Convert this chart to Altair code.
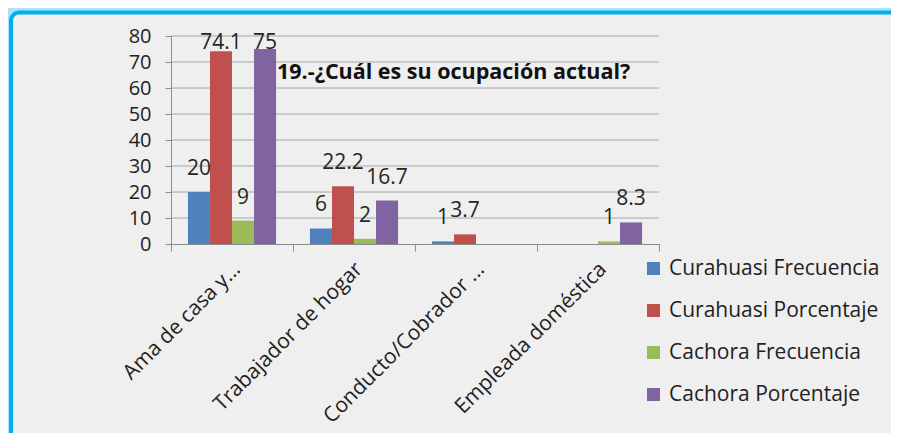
import altair as alt
import pandas as pd

categories = ["Ama de casa y...", "Trabajador de hogar", "Conducto/Cobrador ...", "Empleada doméstica"]
series = ["Curahuasi Frecuencia", "Curahuasi Porcentaje", "Cachora Frecuencia", "Cachora Porcentaje"]
colors = ["#4f81bd", "#c0504d", "#9bbb59", "#8064a2"]

curahuasi_frecuencia = [20, 6, 1, None]
curahuasi_porcentaje = [74.1, 22.2, 3.7, None]
cachora_frecuencia = [9, 2, None, 1]
cachora_porcentaje = [75, 16.7, None, 8.3]

title_text = "19.-¿Cuál es su ocupación actual?"
y_ticks = [0, 10, 20, 30, 40, 50, 60, 70, 80]

rows = []
for s, vals in zip(series, [curahuasi_frecuencia, curahuasi_porcentaje, cachora_frecuencia, cachora_porcentaje]):
    for c, v in zip(categories, vals):
        if v is not None:
            rows.append({"cat": c, "serie": s, "value": v, "label": f"{v:g}"})
df = pd.DataFrame(rows)
grid_df = pd.DataFrame({"value": y_ticks[1:]})

FONT = "Open Sans"
AXIS_COLOR = "#8c8c8c"

x_axis = alt.Axis(labelAngle=-45, labelAlign="right", labelBaseline="top",
                  labelFontSize=21, labelColor="#222222", labelFont=FONT,
                  labelLimit=400, labelOverlap=False,
                  tickBand="extent", tickSize=7, labelPadding=7, labelOffset=-3,
                  domainColor=AXIS_COLOR, tickColor=AXIS_COLOR, grid=False, zindex=1)
y_axis = alt.Axis(values=y_ticks, labelFontSize=20, labelColor="#222222", labelFont=FONT,
                  labelOverlap=False, labelBaseline="middle", labelFlush=False,
                  tickSize=6, labelPadding=14, domainColor=AXIS_COLOR, tickColor=AXIS_COLOR,
                  grid=False, zindex=1)
x_scale = alt.Scale(paddingInner=0, paddingOuter=0)
y_scale = alt.Scale(domain=[0, 80], nice=False)
xoff = alt.XOffset("serie:N", sort=series, scale=alt.Scale(domain=series, paddingInner=0, paddingOuter=0.77))

frame = alt.Chart(alt.Data(values=[{"a": 1}])).mark_rect(
    fill="#efefef", stroke="#00b0f0", strokeWidth=4, cornerRadius=8
).encode(x=alt.value(-160), x2=alt.value(900), y=alt.value(-23.5), y2=alt.value(500))

grid = alt.Chart(grid_df).mark_rule(color="#a6a6a6", strokeWidth=1).encode(
    y=alt.Y("value:Q", title=None, scale=y_scale, axis=y_axis), x=alt.value(0), x2=alt.value(488)
)

bars = alt.Chart(df).mark_bar().encode(
    x=alt.X("cat:N", sort=categories, title=None, scale=x_scale, axis=x_axis),
    y=alt.Y("value:Q", title=None, scale=y_scale, axis=y_axis),
    xOffset=xoff,
    color=alt.Color("serie:N", sort=series, scale=alt.Scale(domain=series, range=colors),
                    legend=alt.Legend(title=None, orient="none", legendX=472, legendY=222,
                                      symbolType="square", symbolSize=169, symbolStrokeWidth=0,
                                      labelFontSize=21, labelFont=FONT, labelColor="#222222",
                                      labelLimit=400, rowPadding=20, labelOffset=5)),
)

labels = alt.Chart(df).transform_calculate(
    ly="min(datum.value, 68.5)"
).mark_text(fontSize=21, font=FONT, color="#262626", baseline="middle", dy=-23).encode(
    x=alt.X("cat:N", sort=categories, title=None, scale=x_scale, axis=x_axis),
    xOffset=xoff,
    y=alt.Y("ly:Q", title=None, scale=y_scale, axis=y_axis), text="label:N"
)

title = alt.Chart(alt.Data(values=[{"t": title_text}])).mark_text(
    fontSize=21.5, font=FONT, fontWeight="bold", color="#111111", align="left", baseline="middle"
).encode(x=alt.value(106), y=alt.value(37), text="t:N")

chart = alt.layer(frame, grid, bars, labels, title).properties(
    width=488, height=208,
    autosize=alt.AutoSizeParams(type="none"),
    padding={"left": 163, "top": 28, "right": 232, "bottom": 189},
    background="#a9e5f7",
).configure_view(stroke=None)

chart.save("out.html", embed_options={"renderer": "svg", "actions": False})
